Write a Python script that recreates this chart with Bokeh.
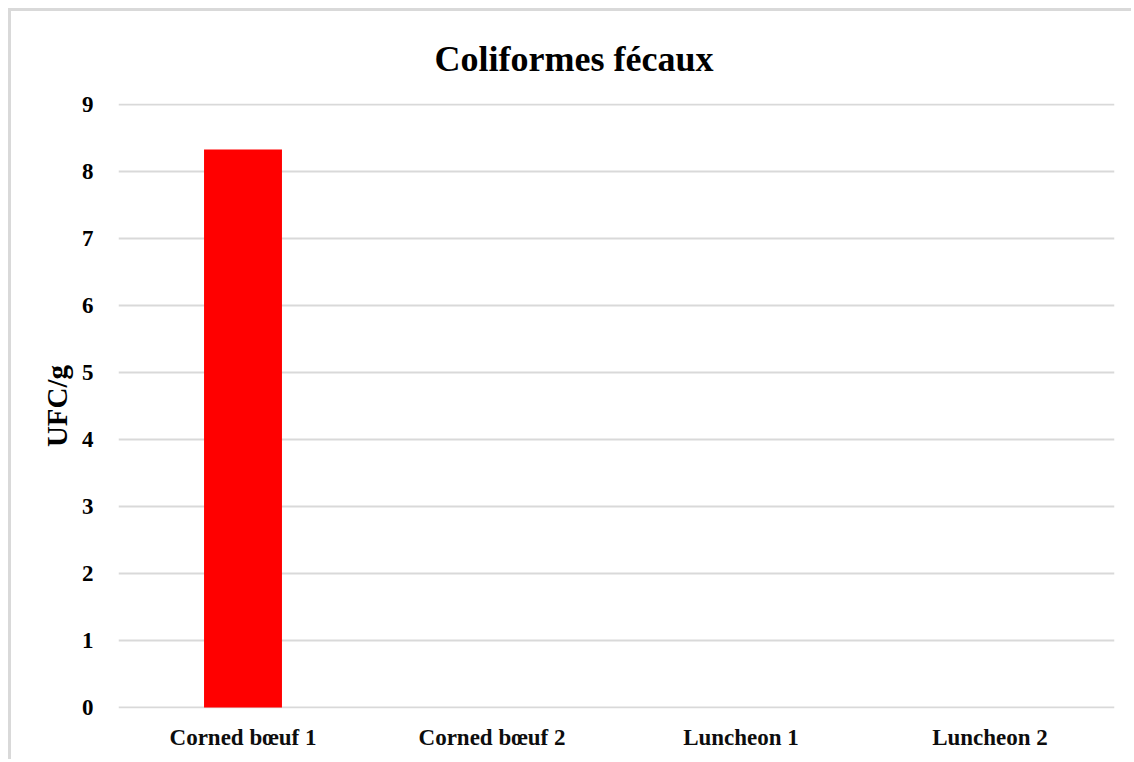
from bokeh.plotting import figure
from bokeh.models import Range1d, FixedTicker
from bokeh.embed import file_html
from bokeh.resources import INLINE

# Fecal coliform counts per sample
categories = ["Corned bœuf 1", "Corned bœuf 2", "Luncheon 1", "Luncheon 2"]
ufc_values = [8.33, 0, 0, 0]
y_ticks = [0, 1, 2, 3, 4, 5, 6, 7, 8, 9]
chart_title = "Coliformes fécaux"

SERIF = "Liberation Serif"
GRID = "#d9d9d9"

p = figure(
    title=chart_title,
    x_range=categories,
    y_range=Range1d(-0.015, 9.015),
    width=1123,
    height=751,
    output_backend="svg",
    toolbar_location=None,
    min_border_left=107,
    min_border_right=20,
    min_border_top=92,
    min_border_bottom=54,
    margin=(8, 0, 0, 8),
    styles={"border-left": f"3px solid {GRID}", "border-top": f"3px solid {GRID}"},
)

p.vbar(x=categories, top=ufc_values, width=0.313, fill_color="#ff0000", line_color=None)

p.title.align = "left"
p.title.offset = 316
p.title.standoff = 49
p.title.text_font = SERIF
p.title.text_font_size = "36px"
p.title.text_font_style = "bold"
p.title.text_color = "#000000"

p.outline_line_color = None
p.xgrid.grid_line_color = None
p.ygrid.grid_line_color = GRID
p.ygrid.grid_line_width = 2

p.yaxis.ticker = FixedTicker(ticks=y_ticks)
p.yaxis.axis_line_color = None
p.yaxis.major_tick_line_color = None
p.yaxis.minor_tick_line_color = None
p.yaxis.major_label_standoff = 19
p.yaxis.major_label_text_font = SERIF
p.yaxis.major_label_text_font_size = "23px"
p.yaxis.major_label_text_font_style = "bold"
p.yaxis.major_label_text_color = "#000000"
p.yaxis.axis_label = "UFC/g"
p.yaxis.axis_label_text_font = SERIF
p.yaxis.axis_label_text_font_size = "29px"
p.yaxis.axis_label_text_font_style = "bold"
p.yaxis.axis_label_text_color = "#000000"
p.yaxis.axis_label_standoff = 6

p.xaxis.axis_line_color = None
p.xaxis.major_tick_line_color = None
p.xaxis.minor_tick_line_color = None
p.xaxis.major_label_standoff = 10
p.xaxis.major_label_text_font = SERIF
p.xaxis.major_label_text_font_size = "23px"
p.xaxis.major_label_text_font_style = "bold"
p.xaxis.major_label_text_color = "#0d0d0d"

p.x_range.range_padding = 0

open("out.html", "w").write(file_html(p, INLINE))
